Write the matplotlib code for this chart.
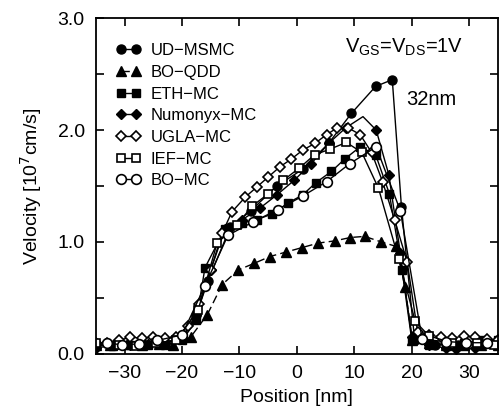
import matplotlib
matplotlib.use("Agg")
import matplotlib.pyplot as plt
from matplotlib.ticker import MultipleLocator, FormatStrFormatter, FuncFormatter

plt.rcParams["font.family"] = ["Liberation Sans", "DejaVu Sans"]

# UD-MSMC
ud_x = [-35, -31, -27, -23, -20, -17.5, -15.5, -11.6, -8, -3.5, 1, 5.5, 9.5, 13.7, 16.6, 18.2, 20.5, 24, 28, 32, 35]
ud_y = [0.08, 0.09, 0.1, 0.1, 0.15, 0.35, 0.65, 1.13, 1.28, 1.5, 1.65, 1.88, 2.15, 2.39, 2.45, 1.31, 0.12, 0.08, 0.08, 0.08, 0.09]

# BO-QDD
qdd_x = [-35, -32.5, -29.5, -27, -24, -21.5, -18.5, -15.6, -13, -10.2, -7.4, -4.7, -1.9, 0.9, 3.7, 6.6,
         9.3, 11.8, 14.7, 17.3, 18.8, 20.1, 23, 26, 29, 32, 35]
qdd_y = [0.08, 0.08, 0.09, 0.08, 0.09, 0.08, 0.15, 0.35, 0.62, 0.75, 0.81, 0.87, 0.91, 0.95, 0.99, 1.01,
         1.04, 1.05, 1.0, 0.96, 0.6, 0.12, 0.1, 0.08, 0.08, 0.08, 0.08]

# ETH-MC
eth_x = [-35, -32, -29, -26, -23, -20, -17.5, -16, -12.5, -9.5, -7, -4.3, -1.5, 1, 3.3, 6, 8.3,
         11, 13.7, 16.1, 18.3, 20, 23, 26, 29, 32, 35]
eth_y = [0.08, 0.07, 0.08, 0.08, 0.08, 0.12, 0.3, 0.77, 1.12, 1.17, 1.2, 1.25, 1.35, 1.42, 1.53, 1.63, 1.74,
         1.85, 1.78, 1.43, 0.75, 0.12, 0.08, 0.09, 0.1, 0.12, 0.12]

# Numonyx-MC
num_x = [-35, -32, -29, -26, -23, -20, -17.5, -15, -12.5, -9.5, -6.5, -3.5, -0.5, 2.5, 5.5, 8.5,
         11.5, 13.8, 16, 18, 20, 23, 26, 27.7, 31, 35]
num_y = [0.05, 0.08, 0.08, 0.09, 0.1, 0.13, 0.35, 0.75, 1.12, 1.2, 1.3, 1.42, 1.55, 1.7, 1.88, 2.02,
         2.12, 2.0, 1.6, 0.9, 0.15, 0.08, 0.05, 0.04, 0.05, 0.08]

# UGLA-MC
ugla_x = [-35, -33, -31, -29, -27, -25, -23, -21, -19, -17, -15, -13, -11.3, -9, -7, -5, -3, -1, 1,
          3.1, 5.2, 7, 8.9, 11, 13, 14.9, 17, 19.2, 21, 23, 25, 27, 29, 31, 33, 35]
ugla_y = [0.1, 0.1, 0.12, 0.15, 0.14, 0.15, 0.14, 0.15, 0.25, 0.45, 0.75, 1.08, 1.27, 1.4, 1.49, 1.58,
          1.67, 1.74, 1.82, 1.88, 1.96, 2.02, 2.02, 1.96, 1.8, 1.54, 1.2, 0.82, 0.2, 0.17, 0.15, 0.14,
          0.16, 0.15, 0.13, 0.12]

# IEF-MC
ief_x = [-35, -31, -28, -24.5, -21, -17.2, -13.9, -10.5, -7.8, -5, -2.4, 0.4, 3.1, 5.8, 8.6, 11.3,
         14.2, 17.7, 20.6, 23, 27, 31.4, 34.3]
ief_y = [0.1, 0.08, 0.07, 0.1, 0.12, 0.39, 0.99, 1.15, 1.32, 1.43, 1.55, 1.66, 1.78, 1.83, 1.89, 1.8,
         1.48, 0.85, 0.29, 0.16, 0.1, 0.1, 0.08]

# BO-MC
bomc_x = [-33, -30.5, -27.5, -24.3, -20, -16, -12, -7.6, -3.3, 1, 5.2, 9.2, 13.8, 18, 21.8, 26, 29.5, 33]
bomc_y = [0.1, 0.08, 0.09, 0.12, 0.17, 0.61, 1.06, 1.18, 1.29, 1.41, 1.54, 1.70, 1.85, 1.28, 0.13, 0.11, 0.1, 0.1]

fig = plt.figure(figsize=(4.99, 4.12), dpi=100)
ax = fig.add_axes([0.192, 0.141, 0.806, 0.815])

ms = 6.5
ax.plot(ud_x, ud_y, "-", color="black", lw=1, marker="o", ms=ms, mfc="black", mec="black", label="UD\u2212MSMC")
ax.plot(qdd_x, qdd_y, "--", color="black", lw=1, dashes=(6, 3), marker="^", ms=ms, mfc="black", mec="black", label="BO\u2212QDD")
ax.plot(eth_x, eth_y, "-", color="black", lw=1, marker="s", ms=ms - 0.5, mfc="black", mec="black", label="ETH\u2212MC")
num_marks = [i for i in range(len(num_x)) if num_x[i] != 11.5]
ax.plot(num_x, num_y, "-", color="black", lw=1, marker="D", ms=ms - 1.5, mfc="black", mec="black",
        markevery=num_marks, label="Numonyx\u2212MC")
ax.plot(ugla_x, ugla_y, "-", color="black", lw=1, marker="D", ms=ms - 1.5, mfc="white", mec="black", mew=1.2, label="UGLA\u2212MC")
ax.plot(ief_x, ief_y, "-", color="black", lw=1, marker="s", ms=ms - 0.5, mfc="white", mec="black", mew=1.2, label="IEF\u2212MC")
ax.plot(bomc_x, bomc_y, "-", color="black", lw=1, marker="o", ms=ms + 0.5, mfc="white", mec="black", mew=1.2, label="BO\u2212MC")

ax.set_xlim(-35, 35)
ax.set_ylim(0, 3)
ax.xaxis.set_major_locator(MultipleLocator(10))
ax.yaxis.set_major_locator(MultipleLocator(1))
ax.yaxis.set_minor_locator(MultipleLocator(0.5))
ax.yaxis.set_major_formatter(FormatStrFormatter("%.1f"))
ax.xaxis.set_major_formatter(FuncFormatter(lambda v, p: f"{int(v)}".replace("-", "\u2212")))
ax.tick_params(which="both", direction="in", top=True, right=True, length=6, width=1.2,
               labelsize=14, pad=8)
for s in ax.spines.values():
    s.set_linewidth(1.3)

ax.set_xlabel("Position [nm]", fontsize=14, labelpad=5)
ax.set_ylabel("Velocity [10$^7$cm/s]", fontsize=14, labelpad=10)

ax.text(8.3, 2.74, "V$_{\\mathregular{GS}}$=V$_{\\mathregular{DS}}$=1V", fontsize=14.5, va="center")
ax.text(19, 2.27, "32nm", fontsize=14.5, va="center")

ax.legend(loc="upper left", frameon=False, numpoints=2, handlelength=1.5, handletextpad=0.6,
          labelspacing=0.4, fontsize=12, borderaxespad=0.3, bbox_to_anchor=(0.02, 0.96))

fig.savefig("out.png", dpi=100)
